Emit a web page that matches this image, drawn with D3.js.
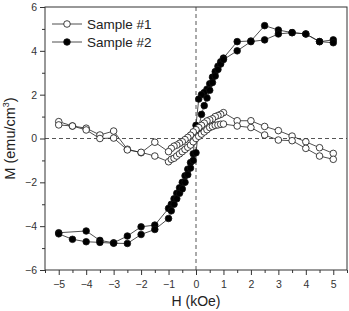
<!DOCTYPE html>
<html>
<head>
<meta charset="utf-8">
<script src="https://cdn.jsdelivr.net/npm/d3@7"></script>
<style>
  body { margin: 0; background: #fff; }
  svg { display: block; font-family: "Liberation Sans", Arial, sans-serif; }
  .axis path, .axis line { stroke: #333; }
  .axis text { fill: #333; font-size: 10.5px; }
</style>
</head>
<body>
<div class="chart"></div>
<script>
const WIDTH = 349
const HEIGHT = 311
const margin = { top: 7, right: 2, bottom: 41, left: 45 }

// sample #1, field sweep down (+5 -> -5) and back up (-5 -> +5)
const s1DownH = [5, 4.5, 4, 3.5, 3, 2.5, 2, 1.5, 1, 0.9, 0.8, 0.7, 0.6, 0.5, 0.4, 0.3, 0.2, 0.1, 0, -0.1, -0.2, -0.3, -0.4, -0.5, -0.6, -0.7, -0.8, -0.9, -1, -1.5, -2, -2.5, -3, -3.5, -4, -4.5, -5]
const s1DownM = [-0.68, -0.42, -0.15, 0.11, 0.36, 0.55, 0.81, 0.81, 1.18, 1.1, 1.05, 1.0, 0.9, 0.85, 0.8, 0.7, 0.6, 0.5, 0.4, 0.3, 0.15, 0.05, -0.05, -0.15, -0.22, -0.3, -0.35, -0.45, -0.6, -0.17, -0.65, -0.49, 0.34, 0.16, 0.47, 0.57, 0.77]
const s1UpH = [-5, -4.5, -4, -3.5, -3, -2.5, -2, -1.5, -1, -0.9, -0.8, -0.7, -0.6, -0.5, -0.4, -0.3, -0.2, -0.1, 0, 0.1, 0.2, 0.3, 0.4, 0.5, 0.6, 0.7, 0.8, 0.9, 1, 1.5, 2, 2.5, 3, 3.5, 4, 4.5, 5]
const s1UpM = [0.62, 0.57, 0.39, 0.0, 0.02, -0.52, -0.63, -0.8, -1.06, -0.95, -0.9, -0.8, -0.7, -0.6, -0.5, -0.4, -0.3, -0.15, 0.0, 0.1, 0.2, 0.3, 0.4, 0.5, 0.55, 0.6, 0.62, 0.65, 0.66, 0.57, 0.5, 0.16, -0.07, -0.1, -0.45, -0.8, -0.95]

// sample #2
const s2DownH = [5, 4.5, 4, 3.5, 3, 2.5, 2, 1.5, 1, 0.9, 0.8, 0.7, 0.6, 0.5, 0.4, 0.3, 0.2, 0.1, 0, -0.1, -0.2, -0.3, -0.4, -0.5, -0.6, -0.7, -0.8, -0.9, -1, -1.5, -2, -2.5, -3, -3.5, -4, -5]
const s2DownM = [4.5, 4.42, 4.77, 4.83, 4.95, 5.15, 4.45, 4.42, 3.67, 3.5, 3.3, 3.05, 2.8, 2.5, 2.25, 2.1, 2.0, 1.8, 0.6, -0.7, -1.1, -1.4, -1.7, -2.0, -2.25, -2.5, -2.75, -3.0, -3.19, -3.95, -4.03, -4.45, -4.76, -4.65, -4.22, -4.3]
const s2UpH = [-5, -4.5, -4, -3.5, -3, -2.5, -2, -1.5, -1, -0.9, -0.8, -0.7, -0.6, -0.5, -0.4, -0.3, -0.2, -0.1, 0, 0.1, 0.2, 0.3, 0.4, 0.5, 0.6, 0.7, 0.8, 0.9, 1, 1.5, 2, 2.5, 3, 3.5, 4, 4.5, 5]
const s2UpM = [-4.35, -4.6, -4.71, -4.74, -4.78, -4.79, -4.38, -4.15, -3.65, -3.3, -3.0, -2.75, -2.5, -2.3, -2.0, -1.65, -1.35, -1.0, -0.65, 0.5, 1.1, 1.5, 1.85, 2.2, 2.55, 2.85, 3.15, 3.4, 3.6, 4.0, 4.42, 4.5, 4.77, 4.83, 4.77, 4.42, 4.37]

const xTicks = [-5, -4, -3, -2, -1, 0, 1, 2, 3, 4, 5]
const xMinor = [-5.5, -4.5, -3.5, -2.5, -1.5, -0.5, 0.5, 1.5, 2.5, 3.5, 4.5, 5.5]
const yTicks = [-6, -4, -2, 0, 2, 4, 6]
const yMinor = [-5, -3, -1, 1, 3, 5]

const seriesNames = ['Sample #1', 'Sample #2']

function zip(h, m) {
  return h.map((d, i) => ({ h: d, m: m[i] }))
}

const samples = [
  { name: seriesNames[1], fill: '#000', pts: zip(s2DownH, s2DownM).concat(zip(s2UpH, s2UpM)) },
  { name: seriesNames[0], fill: '#fff', pts: zip(s1DownH, s1DownM).concat(zip(s1UpH, s1UpM)) },
]

const svg = d3.select('.chart').append('svg')
  .attr('width', WIDTH)
  .attr('height', HEIGHT)

const x = d3.scaleLinear().domain([-5.5, 5.5]).range([margin.left, WIDTH - margin.right])
const y = d3.scaleLinear().domain([-6, 6]).range([HEIGHT - margin.bottom, margin.top])

// zero lines
svg.append('line')
  .attr('x1', x.range()[0]).attr('x2', x.range()[1])
  .attr('y1', y(0)).attr('y2', y(0))
  .attr('stroke', '#555').attr('stroke-dasharray', '4,3')
svg.append('line')
  .attr('x1', x(0)).attr('x2', x(0))
  .attr('y1', y.range()[0]).attr('y2', y.range()[1])
  .attr('stroke', '#555').attr('stroke-dasharray', '4,3')

const line = d3.line().x(d => x(d.h)).y(d => y(d.m))

samples.forEach(s => {
  const g = svg.append('g')
  g.append('path')
    .attr('d', line(s.pts))
    .attr('fill', 'none')
    .attr('stroke', '#222')
    .attr('stroke-width', 0.8)
  g.selectAll('circle').data(s.pts).enter().append('circle')
    .attr('cx', d => x(d.h))
    .attr('cy', d => y(d.m))
    .attr('r', 3.3)
    .attr('fill', s.fill)
    .attr('stroke', '#111')
    .attr('stroke-width', 0.8)
})

// frame
svg.append('rect')
  .attr('x', margin.left).attr('y', margin.top)
  .attr('width', WIDTH - margin.left - margin.right)
  .attr('height', HEIGHT - margin.top - margin.bottom)
  .attr('fill', 'none').attr('stroke', '#333')

// axes
const xAxis = svg.append('g').attr('class', 'axis')
  .attr('transform', `translate(0,${y.range()[0]})`)
  .call(d3.axisBottom(x).tickValues(xTicks).tickSize(5).tickPadding(6).tickSizeOuter(0).tickFormat(d3.format('d')))
xAxis.select('.domain').remove()
svg.append('g').attr('class', 'axis')
  .attr('transform', `translate(0,${y.range()[0]})`)
  .call(d3.axisBottom(x).tickValues(xMinor).tickSize(3).tickFormat(''))
  .select('.domain').remove()

const yAxis = svg.append('g').attr('class', 'axis')
  .attr('transform', `translate(${x.range()[0]},0)`)
  .call(d3.axisLeft(y).tickValues(yTicks).tickSize(5).tickPadding(3).tickFormat(d3.format('d')))
yAxis.select('.domain').remove()
svg.append('g').attr('class', 'axis')
  .attr('transform', `translate(${x.range()[0]},0)`)
  .call(d3.axisLeft(y).tickValues(yMinor).tickSize(3).tickFormat(''))
  .select('.domain').remove()

// axis titles
svg.append('text')
  .attr('x', x(0))
  .attr('y', HEIGHT - 5)
  .attr('text-anchor', 'middle')
  .attr('font-size', 14)
  .attr('fill', '#222')
  .text('H (kOe)')

const yt = svg.append('text')
  .attr('transform', `translate(15,${y(0)}) rotate(-90)`)
  .attr('text-anchor', 'middle')
  .attr('font-size', 14.5)
  .attr('fill', '#222')
yt.append('tspan').text('M (emu/cm')
yt.append('tspan').attr('font-size', 9).attr('dy', -6).text('3')
yt.append('tspan').attr('dy', 6).text(')')

// legend
const legend = svg.append('g')
const legendItems = [
  { name: seriesNames[0], fill: '#fff' },
  { name: seriesNames[1], fill: '#000' },
]
legendItems.forEach((d, i) => {
  const ly = 24 + i * 18
  legend.append('line')
    .attr('x1', 52).attr('x2', 82).attr('y1', ly).attr('y2', ly)
    .attr('stroke', '#222').attr('stroke-width', 0.8)
  legend.append('circle')
    .attr('cx', 67).attr('cy', ly).attr('r', 3.3)
    .attr('fill', d.fill).attr('stroke', '#111').attr('stroke-width', 0.8)
  legend.append('text')
    .attr('x', 87).attr('y', ly).attr('dy', '0.36em')
    .attr('font-size', 13.5)
    .attr('fill', '#222')
    .text(d.name)
})
</script>
</body>
</html>
